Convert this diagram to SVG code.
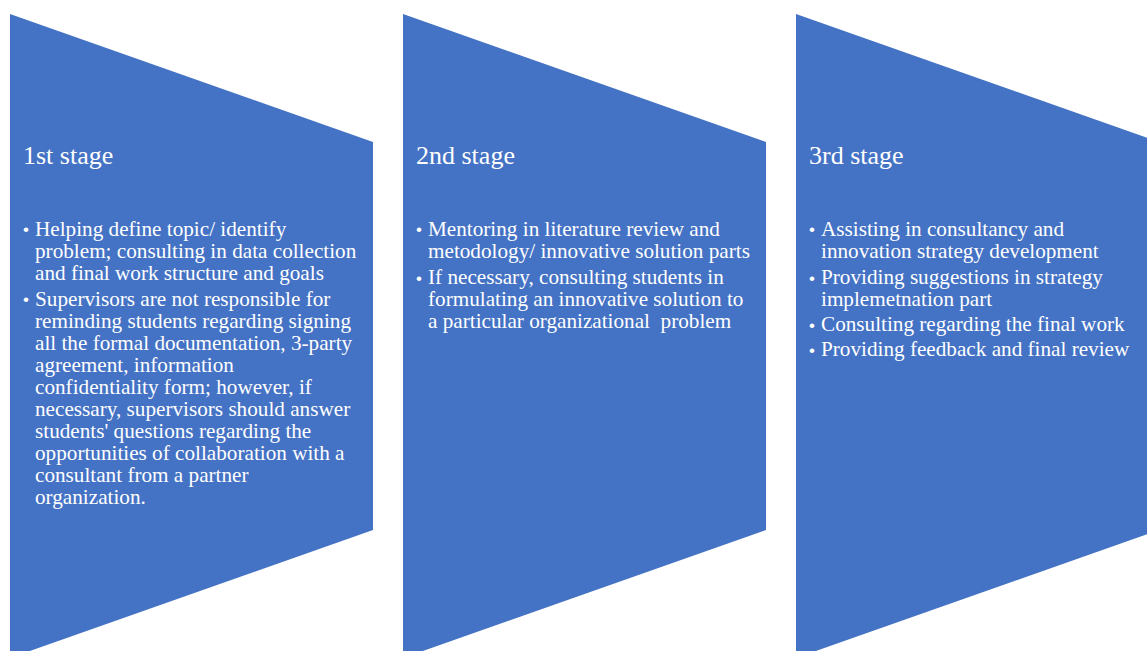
<svg xmlns="http://www.w3.org/2000/svg" width="1147" height="651" viewBox="0 0 1147 651">
  <style>
    .stage { fill: #4472C4; }
    .title { font-family: "Liberation Serif", "Times New Roman", serif; font-size: 26px; fill: #FFFFFF; }
    .body { font-family: "Liberation Serif", "Times New Roman", serif; font-size: 21.2px; fill: #FFFFFF; }
    .dot { font-family: "Liberation Sans", Arial, sans-serif; font-size: 17px; fill: #FFFFFF; }
  </style>
  <rect width="1147" height="651" fill="#FFFFFF"/>

  <!-- Stage 1 -->
  <g id="stage-1">
    <polygon class="stage" points="10,14 373,142 373,530 10,658"/>
    <text class="title" x="23" y="164">1st stage</text>
    <text class="dot" x="23" y="235">•</text>
    <text class="body" x="35">
      <tspan x="35" y="236">Helping define topic/ identify</tspan>
      <tspan x="35" y="258">problem; consulting in data collection</tspan>
      <tspan x="35" y="280">and final work structure and goals</tspan>
    </text>
    <text class="dot" x="23" y="305">•</text>
    <text class="body" x="35">
      <tspan x="35" y="306">Supervisors are not responsible for</tspan>
      <tspan x="35" y="328">reminding students regarding signing</tspan>
      <tspan x="35" y="350">all the formal documentation, 3-party</tspan>
      <tspan x="35" y="372">agreement, information</tspan>
      <tspan x="35" y="394">confidentiality form; however, if</tspan>
      <tspan x="35" y="416">necessary, supervisors should answer</tspan>
      <tspan x="35" y="438">students' questions regarding the</tspan>
      <tspan x="35" y="460">opportunities of collaboration with a</tspan>
      <tspan x="35" y="482">consultant from a partner</tspan>
      <tspan x="35" y="504">organization.</tspan>
    </text>
  </g>

  <!-- Stage 2 -->
  <g id="stage-2">
    <polygon class="stage" points="403,14 766,142 766,530 403,658"/>
    <text class="title" x="416" y="164">2nd stage</text>
    <text class="dot" x="416" y="235">•</text>
    <text class="body">
      <tspan x="428" y="236">Mentoring in literature review and</tspan>
      <tspan x="428" y="258">metodology/ innovative solution parts</tspan>
    </text>
    <text class="dot" x="416" y="284">•</text>
    <text class="body" xml:space="preserve"><tspan x="428" y="284">If necessary, consulting students in</tspan><tspan x="428" y="306">formulating an innovative solution to</tspan><tspan x="428" y="328">a particular organizational  problem</tspan></text>
  </g>

  <!-- Stage 3 -->
  <g id="stage-3">
    <polygon class="stage" points="796,14 1159,142 1159,530 796,658"/>
    <text class="title" x="809" y="164">3rd stage</text>
    <text class="dot" x="809" y="235">•</text>
    <text class="body">
      <tspan x="821" y="236">Assisting in consultancy and</tspan>
      <tspan x="821" y="258">innovation strategy development</tspan>
    </text>
    <text class="dot" x="809" y="284">•</text>
    <text class="body">
      <tspan x="821" y="284">Providing suggestions in strategy</tspan>
      <tspan x="821" y="306">implemetnation part</tspan>
    </text>
    <text class="dot" x="809" y="331">•</text>
    <text class="body">
      <tspan x="821" y="331">Consulting regarding the final work</tspan>
    </text>
    <text class="dot" x="809" y="356">•</text>
    <text class="body">
      <tspan x="821" y="356">Providing feedback and final review</tspan>
    </text>
  </g>

  <g id="connectors"/>
</svg>
